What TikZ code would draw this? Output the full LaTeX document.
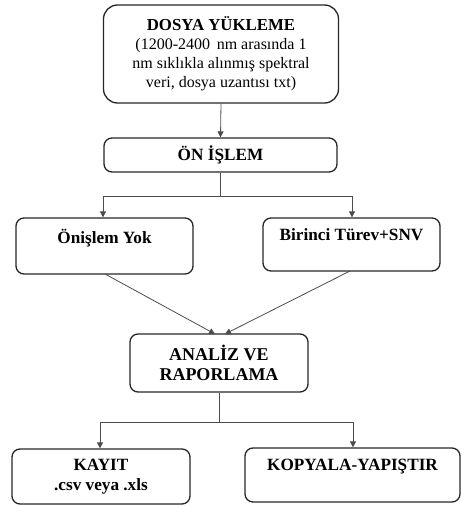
\documentclass[tikz,border=0pt]{standalone}
\usepackage{fontspec}
\setmainfont{Liberation Serif}
\usetikzlibrary{arrows.meta}
\begin{document}
\begin{tikzpicture}[x=1pt,y=-1pt,
  box/.style={draw=black!85, line width=1.3pt, rounded corners=8pt, align=center,
    inner sep=0pt, font=\fontsize{17.2}{20}\selectfont\bfseries},
  conn/.style={draw=black!70, line width=0.8pt},
  arr/.style={conn, -{Triangle[length=6pt,width=6pt]}}]
\useasboundingbox (0,0) rectangle (462,506);
\node[box, rounded corners=14pt, minimum width=235pt, minimum height=98pt,
  font=\fontsize{16}{19}\selectfont] (dosya) at (221,54)
  {{\fontsize{16.8}{19}\selectfont\bfseries DOSYA YÜKLEME}\\(1200-2400 \,nm arasında 1\\nm sıklıkla alınmış spektral\\veri, dosya uzantısı txt)};
\node[box, minimum width=233pt, minimum height=34pt] (on) at (220.5,155) {ÖN İŞLEM};
\node[box, minimum width=177pt, minimum height=56pt] (yok) at (104.5,246) {Önişlem Yok\\\mbox{}};
\node[box, minimum width=177pt, minimum height=53pt] (bir) at (351.5,244.5) {Birinci Türev+SNV\\\mbox{}};
\node[box, minimum width=178pt, minimum height=58pt, font=\fontsize{18}{20.5}\selectfont\bfseries] (an) at (219,363) {ANALİZ VE\\RAPORLAMA};
\node[box, minimum width=178pt, minimum height=55pt] (kay) at (101,476.5) {KAYIT\\.csv veya .xls};
\node[box, minimum width=215pt, minimum height=54pt] (kop) at (352.5,475) {KOPYALA-YAPIŞTIR\\\mbox{}};
% connectors
\draw[arr] (dosya.south) -- (on.north);
\coordinate (j1) at (220.5,196);
\coordinate (j1l) at (103,196);
\coordinate (j1r) at (352,196);
\draw[conn] (on.south) -- (j1);
\draw[arr] (j1) -- (j1l) -- (yok.north -| j1l);
\draw[arr] (j1) -- (j1r) -- (bir.north -| j1r);
\coordinate (ya) at (105,274);
\coordinate (ba) at (350,271);
\coordinate (at1) at (215,334);
\coordinate (at2) at (225,334);
\draw[arr] (ya) -- (at1);
\draw[arr] (ba) -- (at2);
\coordinate (j2) at (219,422);
\coordinate (j2l) at (100,422);
\coordinate (j2r) at (353,422);
\draw[conn] (an.south) -- (j2);
\draw[arr] (j2) -- (j2l) -- (kay.north -| j2l);
\draw[arr] (j2) -- (j2r) -- (kop.north -| j2r);
\end{tikzpicture}
\end{document}
